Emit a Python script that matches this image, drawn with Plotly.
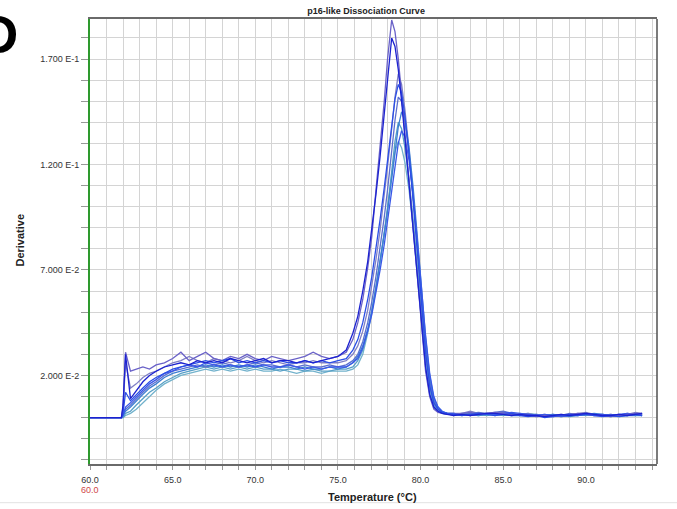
import plotly.graph_objects as go

# ---------------- data ----------------
temperature = [
    60.0, 61.9, 62.0, 62.15, 62.45, 62.8, 63.2, 63.6, 64.0, 64.5, 65.0, 65.5,
    66.0, 66.5, 67.0, 67.5, 68.0, 68.5, 69.0, 69.5, 70.0, 70.5, 71.0, 71.5,
    72.0, 72.5, 73.0, 73.5, 74.0, 74.5, 75.0, 75.5,
    75.9, 76.2, 76.5, 76.8, 77.05, 77.3, 77.55, 77.8, 78.0, 78.25, 78.45, 78.65,
    78.85, 79.05, 79.3, 79.55, 79.8, 80.05, 80.3, 80.55, 80.8, 81.05, 81.3, 81.6,
    82.0, 82.5, 83.0, 83.5, 84.0, 84.5, 85.0, 85.5, 86.0, 86.5, 87.0, 87.5,
    88.0, 88.5, 89.0, 89.5, 90.0, 90.5, 91.0, 91.5, 92.0, 92.5, 93.0, 93.4,
]

well_A = [
    0, 0, 0.005, 0.031, 0.022, 0.023, 0.024, 0.023, 0.025, 0.026, 0.028, 0.031,
    0.027, 0.029, 0.031, 0.028, 0.027, 0.029, 0.028, 0.030, 0.028, 0.027, 0.029, 0.028,
    0.027, 0.028, 0.029, 0.031, 0.029, 0.028, 0.029, 0.031,
    0.037, 0.045, 0.056, 0.071, 0.086, 0.108, 0.128, 0.150, 0.170, 0.1885, 0.183, 0.170,
    0.153, 0.135, 0.112, 0.090, 0.066, 0.043, 0.022, 0.010, 0.004, 0.0025, 0.002, 0.0015,
    0.0015, 0.002, 0.0025, 0.0015, 0.002, 0.0025, 0.002, 0.0015, 0.0015, 0.001, 0.0005, 0.001,
    0.0005, 0.001, 0.0015, 0.002, 0.0015, 0.001, 0.001, 0.0005, 0.001, 0.0015, 0.002, 0.0015,
]
well_B = [
    0, 0, 0.006, 0.030, 0.009, 0.013, 0.017, 0.020, 0.022, 0.024, 0.025, 0.026,
    0.025, 0.027, 0.026, 0.027, 0.026, 0.028, 0.027, 0.026, 0.027, 0.028, 0.026, 0.027,
    0.027, 0.026, 0.027, 0.026, 0.027, 0.028, 0.029, 0.032,
    0.040, 0.048, 0.060, 0.074, 0.089, 0.106, 0.124, 0.144, 0.162, 0.180, 0.176, 0.165,
    0.150, 0.133, 0.112, 0.091, 0.068, 0.045, 0.024, 0.011, 0.005, 0.003, 0.002, 0.0015,
    0.001, 0.0015, 0.001, 0.0015, 0.002, 0.002, 0.0015, 0.001, 0.0015, 0.001, 0.001, 0.0005,
    0.001, 0.0015, 0.001, 0.0015, 0.002, 0.0015, 0.001, 0.001, 0.0015, 0.001, 0.0015, 0.002,
]
well_C = [
    0, 0, 0.004, 0.026, 0.014, 0.016, 0.019, 0.021, 0.022, 0.024, 0.026, 0.027,
    0.029, 0.027, 0.026, 0.028, 0.027, 0.026, 0.027, 0.029, 0.027, 0.026, 0.027, 0.026,
    0.025, 0.026, 0.026, 0.027, 0.026, 0.026, 0.026, 0.027,
    0.030, 0.034, 0.041, 0.051, 0.062, 0.075, 0.089, 0.105, 0.119, 0.137, 0.152, 0.163,
    0.158, 0.146, 0.127, 0.104, 0.080, 0.055, 0.032, 0.016, 0.007, 0.004, 0.0025, 0.002,
    0.002, 0.002, 0.003, 0.002, 0.0015, 0.002, 0.0025, 0.002, 0.0015, 0.002, 0.001, 0.0015,
    0.001, 0.0015, 0.001, 0.002, 0.0025, 0.0015, 0.001, 0.0015, 0.001, 0.0015, 0.0025, 0.002,
]
well_D = [
    0, 0, 0.002, 0.012, 0.008, 0.011, 0.014, 0.017, 0.019, 0.021, 0.023, 0.024,
    0.025, 0.026, 0.027, 0.026, 0.027, 0.028, 0.026, 0.027, 0.026, 0.027, 0.026, 0.027,
    0.026, 0.026, 0.027, 0.026, 0.027, 0.026, 0.027, 0.028,
    0.032, 0.037, 0.045, 0.056, 0.067, 0.080, 0.094, 0.109, 0.122, 0.139, 0.151, 0.158,
    0.154, 0.143, 0.125, 0.103, 0.079, 0.054, 0.031, 0.015, 0.007, 0.004, 0.0025, 0.002,
    0.0015, 0.001, 0.0015, 0.002, 0.0015, 0.001, 0.0015, 0.002, 0.001, 0.0005, 0.001, 0.0,
    0.0005, 0.001, 0.0015, 0.001, 0.0015, 0.001, 0.0005, 0.001, 0.0005, 0.001, 0.0015, 0.001,
]
well_E = [
    0, 0, 0.001, 0.004, 0.006, 0.009, 0.012, 0.015, 0.017, 0.020, 0.022, 0.023,
    0.024, 0.025, 0.024, 0.025, 0.026, 0.025, 0.024, 0.025, 0.026, 0.025, 0.025, 0.024,
    0.025, 0.024, 0.025, 0.024, 0.024, 0.025, 0.024, 0.025,
    0.027, 0.030, 0.036, 0.045, 0.055, 0.067, 0.080, 0.095, 0.108, 0.126, 0.141, 0.152,
    0.150, 0.141, 0.125, 0.105, 0.082, 0.058, 0.035, 0.018, 0.008, 0.004, 0.0025, 0.002,
    0.002, 0.0015, 0.002, 0.0025, 0.002, 0.0025, 0.003, 0.002, 0.0015, 0.001, 0.0015, 0.001,
    0.0015, 0.001, 0.002, 0.0015, 0.002, 0.0015, 0.001, 0.0015, 0.001, 0.002, 0.0015, 0.002,
]
well_F = [
    0, 0, 0.001, 0.003, 0.005, 0.008, 0.011, 0.014, 0.016, 0.019, 0.021, 0.022,
    0.023, 0.024, 0.025, 0.024, 0.025, 0.024, 0.025, 0.024, 0.025, 0.024, 0.023, 0.024,
    0.024, 0.023, 0.024, 0.023, 0.023, 0.024, 0.023, 0.024,
    0.026, 0.029, 0.034, 0.042, 0.051, 0.062, 0.074, 0.087, 0.098, 0.113, 0.126, 0.138,
    0.145, 0.141, 0.128, 0.109, 0.086, 0.062, 0.038, 0.020, 0.009, 0.005, 0.003, 0.002,
    0.0015, 0.002, 0.0015, 0.001, 0.0015, 0.002, 0.0015, 0.001, 0.001, 0.0015, 0.0005, 0.001,
    0.0015, 0.001, 0.0005, 0.001, 0.0015, 0.002, 0.0015, 0.001, 0.0015, 0.001, 0.001, 0.0015,
]
well_G = [
    0, 0, 0.0, 0.002, 0.003, 0.006, 0.009, 0.012, 0.014, 0.017, 0.019, 0.021,
    0.022, 0.023, 0.024, 0.023, 0.024, 0.023, 0.024, 0.023, 0.024, 0.023, 0.023, 0.022,
    0.023, 0.023, 0.022, 0.023, 0.022, 0.022, 0.023, 0.023,
    0.024, 0.027, 0.032, 0.041, 0.050, 0.061, 0.073, 0.087, 0.099, 0.116, 0.131, 0.140,
    0.137, 0.128, 0.113, 0.094, 0.072, 0.050, 0.029, 0.014, 0.006, 0.0035, 0.0025, 0.002,
    0.001, 0.0015, 0.002, 0.0015, 0.001, 0.0015, 0.001, 0.0015, 0.002, 0.0015, 0.001, 0.0005,
    0.001, 0.0005, 0.001, 0.0015, 0.001, 0.0015, 0.001, 0.0005, 0.001, 0.0015, 0.001, 0.001,
]
well_H = [
    0, 0, 0.001, 0.005, 0.007, 0.010, 0.013, 0.016, 0.018, 0.021, 0.022, 0.024,
    0.025, 0.024, 0.026, 0.025, 0.024, 0.025, 0.024, 0.025, 0.024, 0.025, 0.024, 0.024,
    0.025, 0.024, 0.023, 0.024, 0.023, 0.024, 0.024, 0.024,
    0.026, 0.028, 0.033, 0.041, 0.049, 0.059, 0.070, 0.082, 0.093, 0.107, 0.119, 0.130,
    0.136, 0.133, 0.122, 0.105, 0.084, 0.061, 0.039, 0.021, 0.010, 0.005, 0.003, 0.002,
    0.002, 0.0015, 0.001, 0.0015, 0.002, 0.0015, 0.002, 0.0025, 0.002, 0.0015, 0.001, 0.0015,
    0.001, 0.0005, 0.001, 0.0015, 0.002, 0.0015, 0.0015, 0.001, 0.0015, 0.002, 0.0015, 0.001,
]
well_I = [
    0, 0, 0.0, 0.001, 0.002, 0.004, 0.007, 0.010, 0.013, 0.016, 0.018, 0.020,
    0.021, 0.022, 0.023, 0.022, 0.023, 0.022, 0.023, 0.022, 0.023, 0.022, 0.022, 0.023,
    0.022, 0.021, 0.022, 0.022, 0.021, 0.022, 0.022, 0.022,
    0.023, 0.025, 0.030, 0.040, 0.050, 0.061, 0.074, 0.088, 0.100, 0.115, 0.126, 0.131,
    0.128, 0.121, 0.108, 0.090, 0.068, 0.045, 0.025, 0.012, 0.005, 0.003, 0.002, 0.0015,
    0.0015, 0.001, 0.0015, 0.001, 0.0015, 0.001, 0.0015, 0.001, 0.0015, 0.002, 0.0015, 0.001,
    0.0005, 0.001, 0.0015, 0.001, 0.0015, 0.001, 0.0015, 0.001, 0.0005, 0.001, 0.0015, 0.001,
]

wells = [well_I, well_G, well_C, well_E, well_F, well_H, well_A, well_D, well_B]
well_colors = ["#72b2cc", "#58a0c6", "#8080c6", "#5c6fcf", "#3d7ed2",
               "#3a58e8", "#6a62c8", "#2b4fe6", "#1c22d0"]

x_label_values = [60, 65, 70, 75, 80, 85, 90]
x_tick_labels = ["60.0", "65.0", "70.0", "75.0", "80.0", "85.0", "90.0"]
y_label_values = [0.02, 0.07, 0.12, 0.17]
y_tick_labels = ["2.000 E-2", "7.000 E-2", "1.200 E-1", "1.700 E-1"]

# ---------------- figure ----------------
fig = go.Figure()
for vals, col in zip(wells, well_colors):
    fig.add_trace(go.Scatter(x=temperature, y=vals, mode="lines",
                             line=dict(color=col, width=1.3),
                             showlegend=False, hoverinfo="skip"))

x_ticks = list(range(60, 95))
x_text = [x_tick_labels[x_label_values.index(v)] if v in x_label_values else ""
          for v in x_ticks]
y_ticks = [round(-0.02 + 0.01 * i, 2) for i in range(21)]
y_text = []
for v in y_ticks:
    match = [t for lv, t in zip(y_label_values, y_tick_labels) if abs(lv - v) < 1e-9]
    y_text.append(match[0] if match else "")

tick_font = dict(family="Liberation Sans, Arial, sans-serif", size=9, color="#333333")

fig.update_layout(
    width=677, height=509,
    margin=dict(l=90, r=20, t=19, b=45),
    paper_bgcolor="white", plot_bgcolor="white",
    title=dict(text="<b>p16-like Dissociation Curve</b>",
               font=dict(family="Liberation Sans, Arial, sans-serif", size=9, color="#222222"),
               x=0.487, xref="paper", xanchor="center",
               y=1 - 11 / 509, yref="container", yanchor="middle"),
    xaxis=dict(range=[60, 94.3], tickmode="array", tickvals=x_ticks, ticktext=x_text,
               showgrid=True, gridcolor="#d4d4d4", gridwidth=1,
               ticks="outside", ticklen=4, tickcolor="#999999",
               showline=True, linecolor="#6a6a6a", linewidth=1.5, mirror=True,
               zeroline=False, tickfont=tick_font, ticklabelstandoff=2),
    yaxis=dict(range=[-0.022, 0.189], tickmode="array", tickvals=y_ticks, ticktext=y_text,
               showgrid=True, gridcolor="#d4d4d4", gridwidth=1,
               ticks="outside", ticklen=7, tickcolor="#999999",
               showline=True, linecolor="#2e9a2e", linewidth=2, mirror=False,
               zeroline=False, tickfont=tick_font),
)

# right border
fig.add_shape(type="line", xref="paper", yref="paper", x0=1, x1=1, y0=0, y1=1,
              line=dict(color="#505050", width=1.5))
# light separator near the bottom of the page
fig.add_shape(type="line", xref="paper", yref="paper",
              x0=-0.16, x1=1.04, y0=(464 - 502.7) / 445, y1=(464 - 502.7) / 445,
              line=dict(color="#e2e2e2", width=1))

ann_font = "Liberation Sans, Arial, sans-serif"
fig.add_annotation(text="60.0", x=60, xref="x", y=(464 - 490) / 445, yref="paper",
                   showarrow=False, xanchor="center", yanchor="middle",
                   font=dict(family=ann_font, size=9, color="#d04848"))
fig.add_annotation(text="<b>Derivative</b>", textangle=-90,
                   x=(19 - 89.5) / 567.5, xref="paper", y=(464 - 240) / 445, yref="paper",
                   showarrow=False, xanchor="center", yanchor="middle",
                   font=dict(family=ann_font, size=11, color="#222222"))
fig.add_annotation(text="<b>Temperature (°C)</b>",
                   x=(372 - 89.5) / 567.5, xref="paper", y=(464 - 497) / 445, yref="paper",
                   showarrow=False, xanchor="center", yanchor="middle",
                   font=dict(family=ann_font, size=11, color="#222222"))
fig.add_annotation(text="<b>D</b>",
                   x=(19 - 89.5) / 567.5, xref="paper", y=(464 - 35) / 445, yref="paper",
                   showarrow=False, xanchor="right", yanchor="middle",
                   font=dict(family=ann_font, size=53, color="#000000"))

fig.write_html("out.html", config={"displayModeBar": False},
               post_script="document.body.style.margin='0px';")
